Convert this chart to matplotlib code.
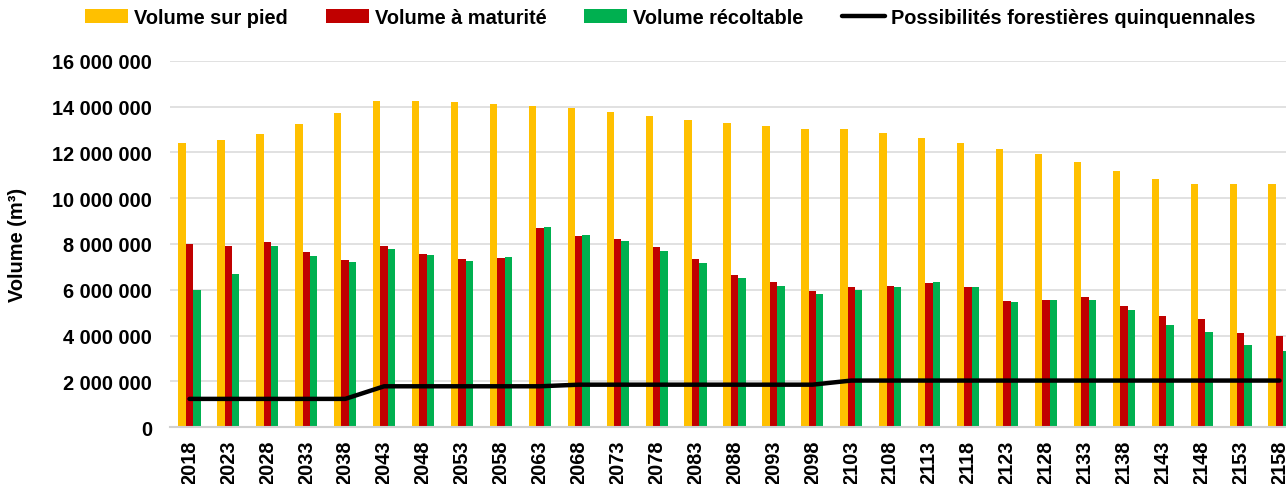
import matplotlib
matplotlib.use("Agg")
import matplotlib.pyplot as plt
import matplotlib.ticker as mticker
import numpy as np

plt.rcParams['font.family'] = ['Liberation Sans', 'DejaVu Sans']
plt.rcParams['font.weight'] = 'bold'

years = ['2018', '2023', '2028', '2033', '2038', '2043', '2048', '2053', '2058', '2063',
         '2068', '2073', '2078', '2083', '2088', '2093', '2098', '2103', '2108', '2113',
         '2118', '2123', '2128', '2133', '2138', '2143', '2148', '2153', '2158']

volume_sur_pied = [12.40, 12.54, 12.80, 13.24, 13.73, 14.26, 14.24, 14.21, 14.11, 14.04,
                   13.94, 13.76, 13.57, 13.41, 13.30, 13.16, 13.02, 13.01, 12.83, 12.64,
                   12.40, 12.15, 11.92, 11.57, 11.17, 10.85, 10.61, 10.61, 10.61]
volume_maturite = [8.00, 7.93, 8.09, 7.65, 7.30, 7.91, 7.56, 7.36, 7.40, 8.70,
                   8.36, 8.21, 7.88, 7.33, 6.66, 6.33, 5.95, 6.11, 6.15, 6.30,
                   6.11, 5.50, 5.57, 5.67, 5.31, 4.86, 4.71, 4.13, 3.97]
volume_recoltable = [6.01, 6.68, 7.90, 7.46, 7.20, 7.78, 7.52, 7.27, 7.42, 8.76,
                     8.39, 8.12, 7.70, 7.19, 6.53, 6.18, 5.80, 5.99, 6.14, 6.33,
                     6.11, 5.47, 5.54, 5.54, 5.11, 4.48, 4.15, 3.59, 3.32]
possibilites = [1.24, 1.24, 1.24, 1.24, 1.24, 1.79, 1.79, 1.79, 1.79, 1.79,
                1.86, 1.86, 1.86, 1.86, 1.86, 1.86, 1.86, 2.04, 2.04, 2.04,
                2.04, 2.04, 2.04, 2.04, 2.04, 2.04, 2.04, 2.04, 2.04]

scale = 1e6
x = np.arange(len(years))
w = 0.19

fig = plt.figure(figsize=(12.86, 4.85), dpi=100)
ax = fig.add_axes([170 / 1286, 56.7 / 485, 1129 / 1286, 366.6 / 485])

b1 = ax.bar(x - w, np.array(volume_sur_pied) * scale, w, color='#FFC000', label='Volume sur pied', zorder=2)
b2 = ax.bar(x, np.array(volume_maturite) * scale, w, color='#C00000', label='Volume à maturité', zorder=2)
b3 = ax.bar(x + w, np.array(volume_recoltable) * scale, w, color='#00B050', label='Volume récoltable', zorder=2)
l1, = ax.plot(x, np.array(possibilites) * scale, color='black', lw=3.2, solid_capstyle='round',
              label='Possibilités forestières quinquennales', zorder=3)

ax.set_xlim(-0.5, len(years) - 0.5)
ax.set_ylim(0, 16e6)
ax.yaxis.set_major_locator(mticker.MultipleLocator(2e6))
ax.yaxis.set_major_formatter(mticker.FuncFormatter(lambda v, p: f"{int(v):,}".replace(",", " ")))
ax.set_xticks(x)
ax.set_xticklabels(years, rotation=90)
ax.tick_params(axis='y', length=0, pad=13, labelsize=14.4)
ax.tick_params(axis='x', length=0, pad=9, labelsize=14.4)

ax.grid(axis='y', color='#D9D9D9', lw=1.1, zorder=0)
for s in ['top', 'right', 'left']:
    ax.spines[s].set_visible(False)
ax.spines['bottom'].set_color('#D0D0D0')
ax.spines['bottom'].set_linewidth(1.5)

fig.text(18 / 1286, 1 - 245 / 485, 'Volume (m³)', rotation=90, ha='center', va='center',
         fontsize=14.4, fontweight='bold')

fig.legend(handles=[b1, b2, b3, l1], loc='center', bbox_to_anchor=(670 / 1286, 1 - 18 / 485),
           ncol=4, frameon=False, fontsize=14.4, handlelength=2.15, handletextpad=0.3,
           columnspacing=1.9, borderpad=0, borderaxespad=0)

fig.savefig('out.png', dpi=100)
